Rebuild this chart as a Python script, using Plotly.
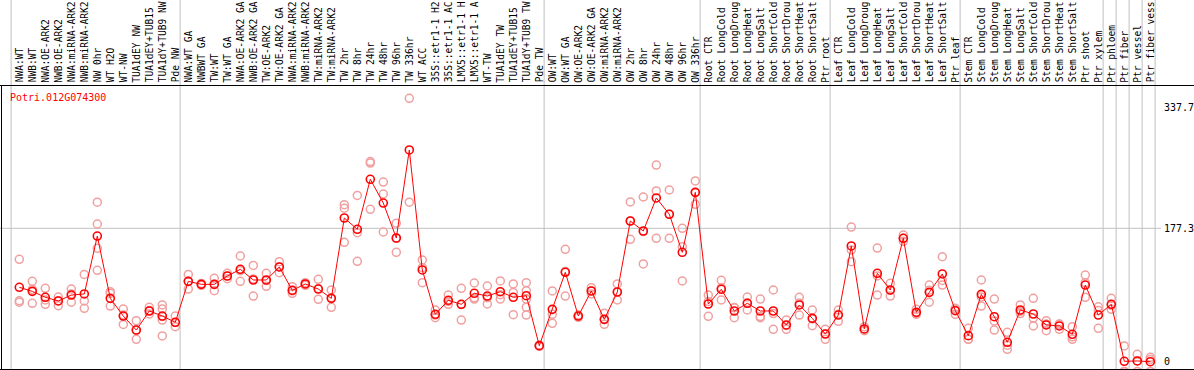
import plotly.graph_objects as go

# ---------------- data ----------------
labels = [
    "NWA:WT", "NWB:WT", "NWA:OE-ARK2", "NWB:OE-ARK2", "NWA:miRNA-ARK2", "NWB:miRNA-ARK2",
    "NW 0hr", "WT H2O", "WT-NW", "TUA1dEY NW", "TUA1dEY+TUB15", "TUA1dY+TUB9 NW", "Pde NW",
    "NWA:WT GA", "NWBWT GA", "TW:WT", "TW:WT GA", "NWA:OE-ARK2 GA", "NWB:OE-ARK2 GA",
    "TW:OE-ARK2", "TW:OE-ARK2 GA", "NWA:miRNA-ARK2", "NWB:miRNA-ARK2", "TW:miRNA-ARK2",
    "TW:miRNA-ARK2", "TW 2hr", "TW 8hr", "TW 24hr", "TW 48hr", "TW 96hr", "TW 336hr",
    "WT ACC", "35S::etr1-1 H2", "35S::etr1-1 AC", "LMX5::etr1-1 H", "LMX5::etr1-1 A",
    "WT-TW", "TUA1dEY TW", "TUA1dEY+TUB15", "TUA1dY+TUB9 TW", "Pde TW",
    "OW:WT", "OW:WT GA", "OW:OE-ARK2", "OW:OE-ARK2 GA", "OW:miRNA-ARK2", "OW:miRNA-ARK2",
    "OW 2hr", "OW 8hr", "OW 24hr", "OW 48hr", "OW 96hr", "OW 336hr",
    "Root CTR", "Root LongCold", "Root LongDroug", "Root LongHeat", "Root LongSalt",
    "Root ShortCold", "Root ShortDrou", "Root ShortHeat", "Root ShortSalt", "Ptr root",
    "Leaf CTR", "Leaf LongCold", "Leaf LongDroug", "Leaf LongHeat", "Leaf LongSalt",
    "Leaf ShortCold", "Leaf ShortDrou", "Leaf ShortHeat", "Leaf ShortSalt", "Ptr leaf",
    "Stem CTR", "Stem LongCold", "Stem LongDroug", "Stem LongHeat", "Stem LongSalt",
    "Stem ShortCold", "Stem ShortDrou", "Stem ShortHeat", "Stem ShortSalt", "Ptr shoot",
    "Ptr xylem", "Ptr phloem", "Ptr fiber", "Ptr vessel", "Ptr fiber vess",
]

group_sizes = [13, 28, 12, 10, 10, 11, 1, 1, 1, 1]

means = [
    98.9, 93.5, 85.6, 80.7, 88.6, 90.0, 167.0, 84.2, 60.7, 42.1, 67.4, 60.7, 52.4,
    106.8, 102.8, 102.8, 113.9, 122.8, 108.6, 108.6, 125.9, 94.9, 103.3, 96.6, 84.2,
    191.0, 176.0, 242.4, 210.9, 164.4, 281.4, 121.9, 63.0, 81.6, 76.3, 90.9, 87.3,
    93.0, 85.6, 87.7, 21.3,
    69.6, 118.8, 60.7, 94.0, 56.3, 92.6, 187.0, 173.7, 217.6, 195.9, 145.4, 225.1,
    76.7, 96.2, 67.4, 77.6, 67.4, 67.4, 48.8, 75.4, 57.6, 36.8,
    62.0, 153.8, 43.5, 117.5, 95.3, 164.0, 65.6, 92.2, 116.6, 67.8,
    34.6, 89.5, 59.8, 25.8, 68.7, 63.4, 48.8, 47.5, 36.4, 101.9, 62.0,
    76.3, 0.5, 1.0, 0.0,
]

replicates = [
    [136, 81, 79], [106.8, 96, 77.6], [97.5, 82, 76.3], [86, 81, 74.5], [96.6, 90, 79],
    [116, 80.7, 71], [212, 183, 150.7, 121.5], [93, 90.9, 74], [70, 62, 49.6],
    [54.5, 42, 29.8], [72.3, 68, 63.4], [75.4, 70, 60, 55.4, 34.2], [60.7, 52, 46.5],
    [116, 107, 96.6], [104, 103, 101.5], [110.8, 103, 94.4], [117.5, 114, 110.3],
    [140.5, 121, 106.8], [128, 110, 87.3], [117.5, 108, 100.2], [133, 126, 118.3],
    [99.7, 94, 90.9], [105, 103, 101.5], [109.5, 97, 82.9], [95.3, 85, 72.3],
    [208.7, 204, 158.7], [221, 171.5, 133.4], [266, 264, 202.5], [238.8, 222.9, 172.4],
    [184, 164, 145.4], [350, 212], [135.2, 125, 105], [68.7, 62, 58.5], [88.6, 80, 76.3],
    [97.5, 76, 55.4], [104.6, 85, 83.3], [100.6, 85, 76.7], [107.3, 89, 83.3],
    [103.3, 92, 62.5], [105, 94.4, 83, 72.3, 62], [22, 21, 20.5],
    [94, 63, 51], [149.4, 120, 87.3], [62, 60, 59], [98.4, 94, 90], [64.3, 56, 49.7],
    [103.3, 93, 82], [212.3, 187, 162.7], [218.9, 173, 129.9], [261.4, 226.9, 164],
    [228.2, 196, 164], [177.3, 152.8, 107.3], [240.2, 225, 209.2],
    [88.6, 80, 60.3], [108.2, 98, 82], [71.8, 72, 58.5], [86, 78, 68.7], [83.3, 60, 58.5],
    [95.3, 64, 43], [55.4, 48, 43], [85.6, 78, 62], [68.7, 57, 47.9], [43, 37, 29.8],
    [68.7, 63, 53.7], [179, 148.5, 133], [46.5, 43, 41.2], [151, 113.9, 88.6],
    [104.2, 95, 87.3], [168.4, 164, 160], [69.6, 64, 63], [101.9, 95, 79],
    [139.5, 108, 101.9], [71, 69, 63],
    [44.4, 30, 29.8], [108.6, 86, 74], [83.3, 54, 42.1], [39, 22, 16.5], [75.4, 67, 64],
    [84.2, 58, 47.5], [54.5, 50, 41.2], [49.7, 50, 43], [46.5, 33, 29.8],
    [115.2, 105, 85.6], [73, 68, 44.4],
    [84.2, 75, 69.6], [20.9, -13, -13], [9.8, 1, -13], [5.8, 3, -13],
]

gene_id = "Potri.012G074300"
tick_values = [337.7, 177.3, 0]
tick_labels = ["337.7", "177.3", "0"]

# ---------------- layout constants ----------------
W, H = 1194, 370
FONT = "DejaVu Sans Mono"
x_step = 13.0
x0_px = 19.3
y_zero_px = 361.7
px_per_unit = (361.7 - 228.3) / 177.3

x_range = [-x0_px / x_step, -x0_px / x_step + W / x_step]
y_top = y_zero_px / px_per_unit
y_range = [y_top - H / px_per_unit, y_top]

xs = list(range(len(labels)))

rep_x, rep_y = [], []
for i, reps in enumerate(replicates):
    for v in reps:
        rep_x.append(i)
        rep_y.append(v)

fig = go.Figure()
fig.add_trace(go.Scatter(
    x=rep_x, y=rep_y, mode="markers",
    marker=dict(symbol="circle-open", size=8, color="#F0A0A0", line=dict(width=1.5)),
    hoverinfo="skip", showlegend=False,
))
fig.add_trace(go.Scatter(
    x=xs, y=means, mode="lines+markers",
    line=dict(color="#FF0000", width=1),
    marker=dict(symbol="circle-open", size=8, color="#FF0000", line=dict(width=1.6)),
    showlegend=False,
))

shapes = []
# vertical group separators
starts = []
s = 0
for g in group_sizes:
    starts.append(s)
    s += g
starts.append(s)
for st in starts:
    shapes.append(dict(type="line", xref="x", yref="paper", x0=st - 0.63, x1=st - 0.63,
                       y0=0, y1=1, line=dict(color="#C0C0C0", width=1), layer="below"))
# horizontal gridline at middle tick
shapes.append(dict(type="line", xref="paper", yref="y", x0=0, x1=1161 / W,
                   y0=tick_values[1], y1=tick_values[1],
                   line=dict(color="#C0C0C0", width=1), layer="below"))
# frame lines
top_p = 1 - 85.5 / H
bot_p = 1 - 369.5 / H
shapes.append(dict(type="line", xref="paper", yref="paper", x0=0, x1=1, y0=top_p, y1=top_p,
                   line=dict(color="black", width=1)))
shapes.append(dict(type="line", xref="paper", yref="paper", x0=0, x1=1, y0=bot_p, y1=bot_p,
                   line=dict(color="black", width=1)))
shapes.append(dict(type="line", xref="paper", yref="paper", x0=1.5 / W, x1=1.5 / W,
                   y0=bot_p, y1=top_p, line=dict(color="black", width=1)))

annotations = []
for i, lab in enumerate(labels):
    annotations.append(dict(
        x=i, y=1 - 83.5 / H, xref="x", yref="paper", text=lab, textangle=-90,
        showarrow=False, xanchor="center", yanchor="bottom",
        font=dict(family=FONT, size=9.6, color="black"), borderpad=0,
    ))
for v, t in zip(tick_values, tick_labels):
    annotations.append(dict(
        x=1163 / W, y=v, xref="paper", yref="y", text=t, showarrow=False,
        xanchor="left", yanchor="middle", font=dict(family=FONT, size=10, color="black"),
        borderpad=0,
    ))
annotations.append(dict(
    x=9 / W, y=1 - 97 / H, xref="paper", yref="paper", text=gene_id, showarrow=False,
    xanchor="left", yanchor="middle", font=dict(family=FONT, size=10, color="#FF0000"),
    borderpad=0,
))

fig.update_layout(
    width=W, height=H, autosize=False,
    margin=dict(l=0, r=0, t=0, b=0, pad=0),
    paper_bgcolor="white", plot_bgcolor="white",
    xaxis=dict(range=x_range, visible=False, showgrid=False, zeroline=False, fixedrange=True),
    yaxis=dict(range=y_range, visible=False, showgrid=False, zeroline=False, fixedrange=True),
    shapes=shapes, annotations=annotations, showlegend=False,
)

fig.write_html("out.html", config={"displayModeBar": False},
               post_script="document.body.style.margin='0';")
